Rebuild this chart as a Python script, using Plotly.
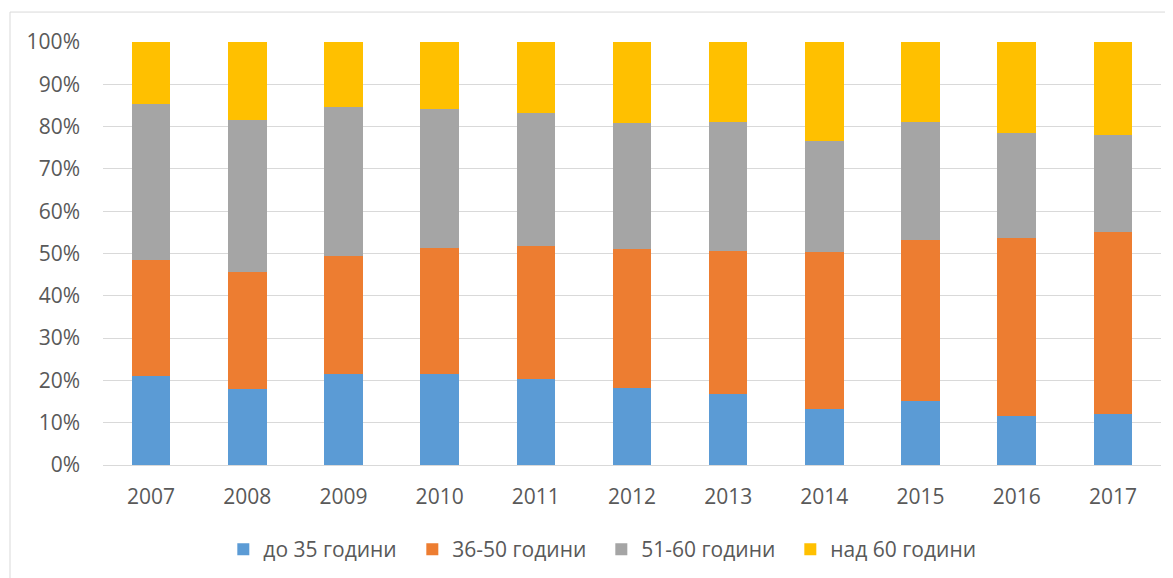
import plotly.graph_objects as go

years = ["2007", "2008", "2009", "2010", "2011", "2012", "2013", "2014", "2015", "2016", "2017"]
s_do35 = [21.1, 17.9, 21.6, 21.4, 20.3, 18.3, 16.9, 13.2, 15.2, 11.6, 12.0]
s_36_50 = [27.4, 27.7, 27.7, 29.9, 31.5, 32.8, 33.8, 37.2, 38.1, 42.1, 43.0]
s_51_60 = [36.8, 36.0, 35.4, 32.9, 31.5, 29.7, 30.3, 26.2, 27.7, 24.8, 23.0]
s_nad60 = [14.7, 18.4, 15.3, 15.8, 16.7, 19.2, 19.0, 23.4, 19.0, 21.5, 22.0]
names = ["до 35 години", "36-50 години", "51-60 години", "над 60 години"]
colors = ["#5B9BD5", "#ED7D31", "#A5A5A5", "#FFC000"]
tick_vals = [0, 10, 20, 30, 40, 50, 60, 70, 80, 90, 100]
tick_text = [f"{v}%" for v in tick_vals]

fig = go.Figure()
for name, vals, col in zip(names, [s_do35, s_36_50, s_51_60, s_nad60], colors):
    fig.add_trace(go.Bar(x=years, y=vals, name=name, marker=dict(color=col, line=dict(width=0))))

font = "Open Sans, Noto Sans, sans-serif"
fig.update_layout(
    barmode="stack",
    bargap=0.6,
    width=1165, height=570,
    margin=dict(l=95, r=12, t=34, b=113, autoexpand=False),
    paper_bgcolor="white", plot_bgcolor="white",
    font=dict(family=font, size=21, color="#595959"),
    showlegend=True,
    legend=dict(orientation="h", x=0.471, xanchor="center", yref="container", y=0.05, yanchor="middle",
                font=dict(size=21, color="#595959"), traceorder="normal", itemwidth=30,
                entrywidth=144, entrywidthmode="pixels"),
    xaxis=dict(showgrid=False, showline=True, linecolor="#d9d9d9", linewidth=1,
               ticks="", ticklabelstandoff=13, tickfont=dict(size=21, color="#595959")),
    yaxis=dict(range=[0, 100], tickvals=tick_vals, ticktext=tick_text, showgrid=True,
               gridcolor="#d9d9d9", gridwidth=1, zeroline=False, showline=False,
               ticks="", ticklabelstandoff=22, tickfont=dict(size=21, color="#595959")),
    shapes=[dict(type="rect", xref="paper", yref="paper", x0=-0.0879, x1=1.02, y0=-0.3, y1=1.0708,
                 line=dict(color="#d9d9d9", width=1), fillcolor="rgba(0,0,0,0)", layer="below")],
)
fig.write_html("out.html")
